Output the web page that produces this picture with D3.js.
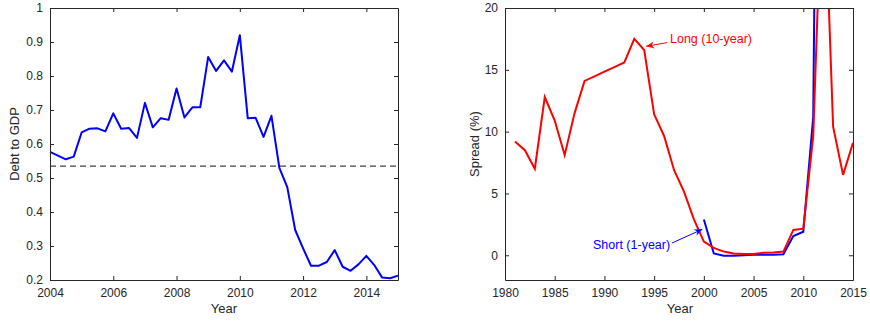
<!DOCTYPE html>
<html>
<head>
<meta charset="utf-8">
<script src="https://cdn.jsdelivr.net/npm/d3@7"></script>
<style>
  body { margin: 0; background: #fff; }
  svg text { font-family: "Liberation Sans", Arial, sans-serif; fill: #262626; }
</style>
</head>
<body>
<svg id="chart" width="870" height="323"></svg>
<script>
// left panel: quarterly debt to GDP, 2004Q1 .. 2015Q1
let debtStart = 2004
let debtValues = [
  0.577, 0.566, 0.555, 0.563, 0.634, 0.645, 0.646, 0.637, 0.690, 0.645,
  0.647, 0.618, 0.721, 0.649, 0.676, 0.671, 0.763, 0.678, 0.708, 0.708,
  0.856, 0.815, 0.846, 0.813, 0.920, 0.676, 0.677, 0.621, 0.683, 0.530,
  0.473, 0.347, 0.293, 0.242, 0.242, 0.253, 0.288, 0.239, 0.227, 0.246,
  0.271, 0.244, 0.207, 0.205, 0.213
]
let debtThreshold = 0.535
let debtYTicks = [0.2, 0.3, 0.4, 0.5, 0.6, 0.7, 0.8, 0.9, 1]
let debtXTicks = [2004, 2006, 2008, 2010, 2012, 2014]

// right panel: annual spreads (%)
let longYears = d3.range(1981, 2016)
let longValues = [
  9.2, 8.5, 7.0, 12.8, 10.9, 8.1, 11.5, 14.1, 14.47, 14.85,
  15.22, 15.6, 17.5, 16.6, 11.4, 9.65, 6.9, 5.15, 2.9, 1.1,
  0.6, 0.3, 0.15, 0.1, 0.1, 0.2, 0.22, 0.3, 2.05, 2.15,
  9.65, 33, 10.4, 6.5, 9.1
]
let shortYears = d3.range(2000, 2013)
let shortValues = [2.9, 0.15, -0.03, -0.03, 0, 0.05, 0.05, 0.05, 0.08, 1.55, 1.9, 11.2, 95]
let spreadYTicks = [0, 5, 10, 15, 20]
let spreadXTicks = [1980, 1985, 1990, 1995, 2000, 2005, 2010, 2015]

let svg = d3.select('#chart')
let plotTop = 8, plotBottom = 280

function drawFrame(g, x, y, xTicks, yTicks, yFmt) {
  let [x0, x1] = x.range()
  // inward ticks on all four sides
  g.append('g')
    .attr('transform', 'translate(0,' + plotBottom + ')')
    .call(d3.axisBottom(x).tickValues(xTicks).tickSizeInner(-4).tickSizeOuter(0).tickPadding(8).tickFormat(d3.format('d')))
  g.append('g')
    .attr('transform', 'translate(0,' + plotTop + ')')
    .call(d3.axisTop(x).tickValues(xTicks).tickSizeInner(-4).tickSizeOuter(0).tickFormat(''))
  g.append('g')
    .attr('transform', 'translate(' + x0 + ',0)')
    .call(d3.axisLeft(y).tickValues(yTicks).tickSizeInner(-4).tickSizeOuter(0).tickPadding(7).tickFormat(yFmt))
  g.append('g')
    .attr('transform', 'translate(' + x1 + ',0)')
    .call(d3.axisRight(y).tickValues(yTicks).tickSizeInner(-4).tickSizeOuter(0).tickFormat(''))
  g.selectAll('.domain').attr('stroke', '#262626').attr('stroke-width', 1)
  g.selectAll('.tick line').attr('stroke', '#262626')
  g.selectAll('.tick text').attr('font-size', 12).attr('fill', '#262626')
}

// ---------- left panel ----------
let xL = d3.scaleLinear().domain([2004, 2015]).range([50, 398])
let yL = d3.scaleLinear().domain([0.2, 1]).range([plotBottom, plotTop])
let left = svg.append('g')

left.append('line')
  .attr('x1', xL(2004)).attr('x2', xL(2015))
  .attr('y1', yL(debtThreshold)).attr('y2', yL(debtThreshold))
  .attr('stroke', '#111').attr('stroke-width', 1).attr('stroke-dasharray', '6,4')

left.append('path')
  .datum(debtValues)
  .attr('fill', 'none')
  .attr('stroke', '#0000ff')
  .attr('stroke-width', 2)
  .attr('stroke-linejoin', 'round')
  .attr('d', d3.line().x((d, i) => xL(debtStart + i / 4)).y(d => yL(d)))

drawFrame(left, xL, yL, debtXTicks, debtYTicks, d => d === 1 ? '1' : d3.format('.1f')(d))

left.append('text').attr('x', 224).attr('y', 313).attr('text-anchor', 'middle')
  .attr('font-size', 13).text('Year')
left.append('text').attr('transform', 'translate(19,144) rotate(-90)').attr('text-anchor', 'middle')
  .attr('font-size', 13).text('Debt to GDP')

// ---------- right panel ----------
let xR = d3.scaleLinear().domain([1980, 2015]).range([505, 853])
let yR = d3.scaleLinear().domain([-2, 20]).range([plotBottom, plotTop])
let right = svg.append('g')

svg.append('clipPath').attr('id', 'clipR')
  .append('rect').attr('x', 505).attr('y', plotTop).attr('width', 348).attr('height', plotBottom - plotTop)

let plotR = right.append('g').attr('clip-path', 'url(#clipR)')
let lineR = years => d3.line().x((d, i) => xR(years[i])).y(d => yR(d))

plotR.append('path')
  .datum(shortValues)
  .attr('fill', 'none').attr('stroke', '#0000ff').attr('stroke-width', 2)
  .attr('d', lineR(shortYears))

plotR.append('path')
  .datum(longValues)
  .attr('fill', 'none').attr('stroke', '#ff0000').attr('stroke-width', 2)
  .attr('d', lineR(longYears))

drawFrame(right, xR, yR, spreadXTicks, spreadYTicks, d3.format('d'))

right.append('text').attr('x', 680).attr('y', 313).attr('text-anchor', 'middle')
  .attr('font-size', 13).text('Year')
right.append('text').attr('transform', 'translate(479,144) rotate(-90)').attr('text-anchor', 'middle')
  .attr('font-size', 13).text('Spread (%)')

// annotations with arrows
function arrow(g, xa, ya, xb, yb, color) {
  g.append('line').attr('x1', xa).attr('y1', ya).attr('x2', xb).attr('y2', yb)
    .attr('stroke', color).attr('stroke-width', 1)
  let ang = Math.atan2(yb - ya, xb - xa), len = 8, w = 3.5
  let bx = xb - len * Math.cos(ang), by = yb - len * Math.sin(ang)
  let px = -Math.sin(ang) * w, py = Math.cos(ang) * w
  g.append('path')
    .attr('d', `M${xb},${yb}L${bx + px},${by + py}L${bx + 2.5 * Math.cos(ang)},${by + 2.5 * Math.sin(ang)}L${bx - px},${by - py}Z`)
    .attr('fill', color)
}

arrow(right, xR(1994.7) + 16, yR(17.2), xR(1994.2), yR(16.9), '#ff0000')
right.append('text').attr('x', 670).attr('y', 43).attr('font-size', 12.5)
  .style('fill', '#ff0000').text('Long (10-year)')

arrow(right, 672, 243, xR(1999.85), yR(2.1), '#0000ff')
right.append('text').attr('x', 593).attr('y', 249).attr('font-size', 12.5)
  .style('fill', '#0000ff').text('Short (1-year)')
</script>
</body>
</html>
